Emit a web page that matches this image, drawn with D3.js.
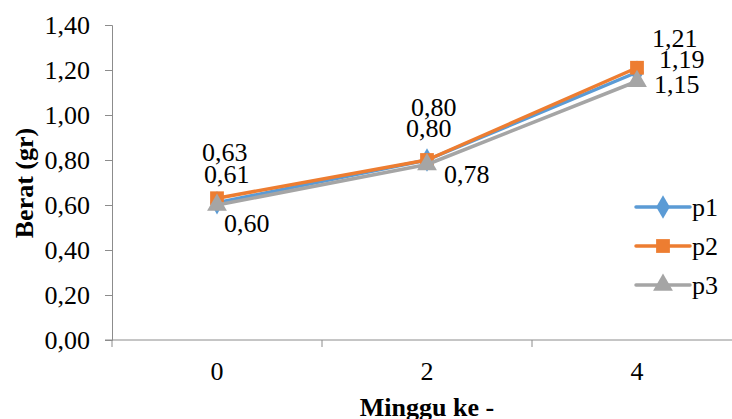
<!DOCTYPE html>
<html>
<head>
<meta charset="utf-8">
<script src="https://cdn.jsdelivr.net/npm/d3@7"></script>
<style>
  body { margin: 0; background: #fff; }
  text { font-family: "Liberation Serif", "Times New Roman", serif; fill: #000; }
</style>
</head>
<body>
<svg id="chart" width="732" height="419"></svg>
<script>
// data
const weeks = ['0', '2', '4'];
const seriesNames = ['p1', 'p2', 'p3'];
const p1 = [0.61, 0.80, 1.19];
const p2 = [0.63, 0.80, 1.21];
const p3 = [0.60, 0.78, 1.15];
const yTicks = [0, 0.2, 0.4, 0.6, 0.8, 1.0, 1.2, 1.4];

const colors = ['#5B9BD5', '#ED7D31', '#A5A5A5'];
const symbols = [d3.symbolDiamond, d3.symbolSquare, d3.symbolTriangle];
const symSizes = [160, 190, 170];
// label offsets [dx, dy] per series per point
const labelOffsets = [
  [[-13, -20], [-21, -23], [22, -4]],
  [[-15, -37], [-16, -44], [15, -21]],
  [[7, 27], [17, 18], [17, 12]]
];

const svg = d3.select('#chart');
const margin = { left: 112, top: 25, bottom: 79 };
const height = 419;

const x = d3.scaleBand().domain(weeks).range([margin.left, margin.left + 630]).padding(0);
const y = d3.scaleLinear().domain([0, 1.4]).range([height - margin.bottom, margin.top]);

const fmt = v => d3.format('.2f')(v).replace('.', ',');
const axisColor = '#8c8c8c';

// y axis
const yAxis = svg.append('g')
  .attr('transform', `translate(${margin.left},0)`)
  .call(d3.axisLeft(y).tickValues(yTicks).tickFormat(fmt).tickSize(7).tickPadding(15));
yAxis.attr('font-family', null);
yAxis.select('.domain').attr('stroke', axisColor);
yAxis.selectAll('.tick line').attr('stroke', axisColor);
yAxis.selectAll('.tick text').attr('font-size', 26).attr('fill', '#000');

// x axis
const xAxisY = y(0);
svg.append('line')
  .attr('x1', margin.left - 7).attr('x2', 742)
  .attr('y1', xAxisY).attr('y2', xAxisY)
  .attr('stroke', axisColor);
const bounds = weeks.map(w => x(w)).concat([x(weeks[weeks.length - 1]) + x.bandwidth()]);
svg.selectAll('.xtick').data(bounds).enter().append('line')
  .attr('x1', d => d).attr('x2', d => d)
  .attr('y1', xAxisY).attr('y2', xAxisY + 7)
  .attr('stroke', axisColor);
svg.selectAll('.xlabel').data(weeks).enter().append('text')
  .attr('x', d => x(d) + x.bandwidth() / 2)
  .attr('y', 380)
  .attr('text-anchor', 'middle')
  .attr('font-size', 26)
  .text(d => d);

// axis titles
svg.append('text')
  .attr('x', 427).attr('y', 416)
  .attr('text-anchor', 'middle')
  .attr('font-size', 26).attr('font-weight', 'bold')
  .text('Minggu ke -');
svg.append('text')
  .attr('transform', 'translate(33,183) rotate(-90)')
  .attr('text-anchor', 'middle')
  .attr('font-size', 26).attr('font-weight', 'bold')
  .text('Berat (gr)');

// series
const allSeries = [p1, p2, p3];
const line = d3.line()
  .x((d, i) => x(weeks[i]) + x.bandwidth() / 2)
  .y(d => y(d));

allSeries.forEach((vals, s) => {
  svg.append('path')
    .attr('d', line(vals))
    .attr('fill', 'none')
    .attr('stroke', colors[s])
    .attr('stroke-width', 3.5)
    .attr('stroke-linejoin', 'round');
  svg.selectAll('.pt' + s).data(vals).enter().append('path')
    .attr('d', d3.symbol().type(symbols[s]).size(symSizes[s]))
    .attr('transform', (d, i) => `translate(${x(weeks[i]) + x.bandwidth() / 2},${y(d)})`)
    .attr('fill', colors[s]);
});

// data labels
allSeries.forEach((vals, s) => {
  svg.selectAll('.lbl' + s).data(vals).enter().append('text')
    .attr('x', (d, i) => x(weeks[i]) + x.bandwidth() / 2 + labelOffsets[s][i][0])
    .attr('y', (d, i) => y(d) + labelOffsets[s][i][1])
    .attr('font-size', 26)
    .text(d => fmt(d));
});

// legend
const legend = svg.append('g');
seriesNames.forEach((name, s) => {
  const ly = 207 + s * 39;
  legend.append('line')
    .attr('x1', 636).attr('x2', 690)
    .attr('y1', ly).attr('y2', ly)
    .attr('stroke', colors[s]).attr('stroke-width', 3.5).attr('stroke-linecap', 'round');
  legend.append('path')
    .attr('d', d3.symbol().type(symbols[s]).size(symSizes[s]))
    .attr('transform', `translate(663,${ly})`)
    .attr('fill', colors[s]);
  legend.append('text')
    .attr('x', 692).attr('y', ly + 9)
    .attr('font-size', 26)
    .text(name);
});
</script>
</body>
</html>
